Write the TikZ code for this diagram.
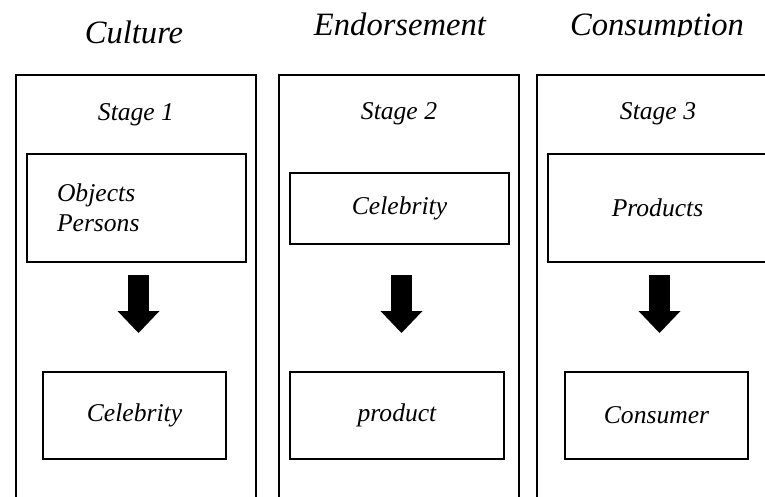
\documentclass[tikz,border=0pt]{standalone}
\usepackage{fontspec}
\setmainfont{Liberation Serif}
\usetikzlibrary{arrows.meta}

\tikzset{
  column/.style={draw,line width=1pt},
  box/.style={draw,line width=1pt,inner sep=0pt,align=center,
    font=\itshape\fontsize{12.8}{15}\selectfont},
  stagelabel/.style={anchor=base,inner sep=0pt,font=\itshape\fontsize{12.8}{15}\selectfont},
  heading/.style={anchor=base,inner sep=0pt,font=\itshape\fontsize{16.3}{19}\selectfont},
  bigarrow/.style={line width=10.5pt,-{Triangle[width=21pt,length=11pt,line width=0pt]}}
}

\begin{document}
\begin{tikzpicture}[x=0.5pt,y=-0.5pt]
  \useasboundingbox (0,0) rectangle (765,497);
  \clip (0,0) rectangle (765,497);

  % headings
  \node[heading] (culture) at (134,44) {Culture};
  \begin{scope}
    \clip (280,0) rectangle (765,36.5);
    \node[heading] (endorsement) at (400,36) {Endorsement};
    \node[heading] (consumption) at (657,36) {Consumption};
  \end{scope}

  % three columns, open at the bottom
  \draw[column] (16,75) rectangle (256,520);
  \draw[column] (279,75) rectangle (519,520);
  \draw[column] (537,75) rectangle (777,520);

  \node[stagelabel] (stage1) at (136,121) {Stage 1};
  \node[stagelabel] (stage2) at (399,120) {Stage 2};
  \node[stagelabel] (stage3) at (658,120) {Stage 3};

  % stage 1
  \node[box,align=left,text width=79.5pt,inner xsep=15pt,minimum height=54pt]
    (objects) at (136.5,208) {Objects\\Persons};
  \node[box,minimum width=91.5pt,minimum height=43.5pt] (celebrity) at (134.5,415.5) {Celebrity};
  \draw[bigarrow] ([xshift=1pt,yshift=-6pt]objects.south) -- ([xshift=2pt,yshift=19pt]celebrity.north);

  % stage 2
  \node[box,minimum width=109.5pt,minimum height=35.5pt] (endorser) at (399.5,208.5) {Celebrity};
  \node[box,minimum width=107pt,minimum height=43.5pt] (product) at (397,415.5) {product};
  \draw[bigarrow] ([xshift=1pt,yshift=-15pt]endorser.south) -- ([xshift=2.25pt,yshift=19pt]product.north);

  % stage 3
  \node[box,minimum width=109.5pt,minimum height=54pt] (products) at (657.5,208) {Products};
  \node[box,minimum width=91.5pt,minimum height=43.5pt] (consumer) at (656.5,415.5) {Consumer};
  \draw[bigarrow] ([xshift=1pt,yshift=-6pt]products.south) -- ([xshift=1.5pt,yshift=19pt]consumer.north);
\end{tikzpicture}
\end{document}
